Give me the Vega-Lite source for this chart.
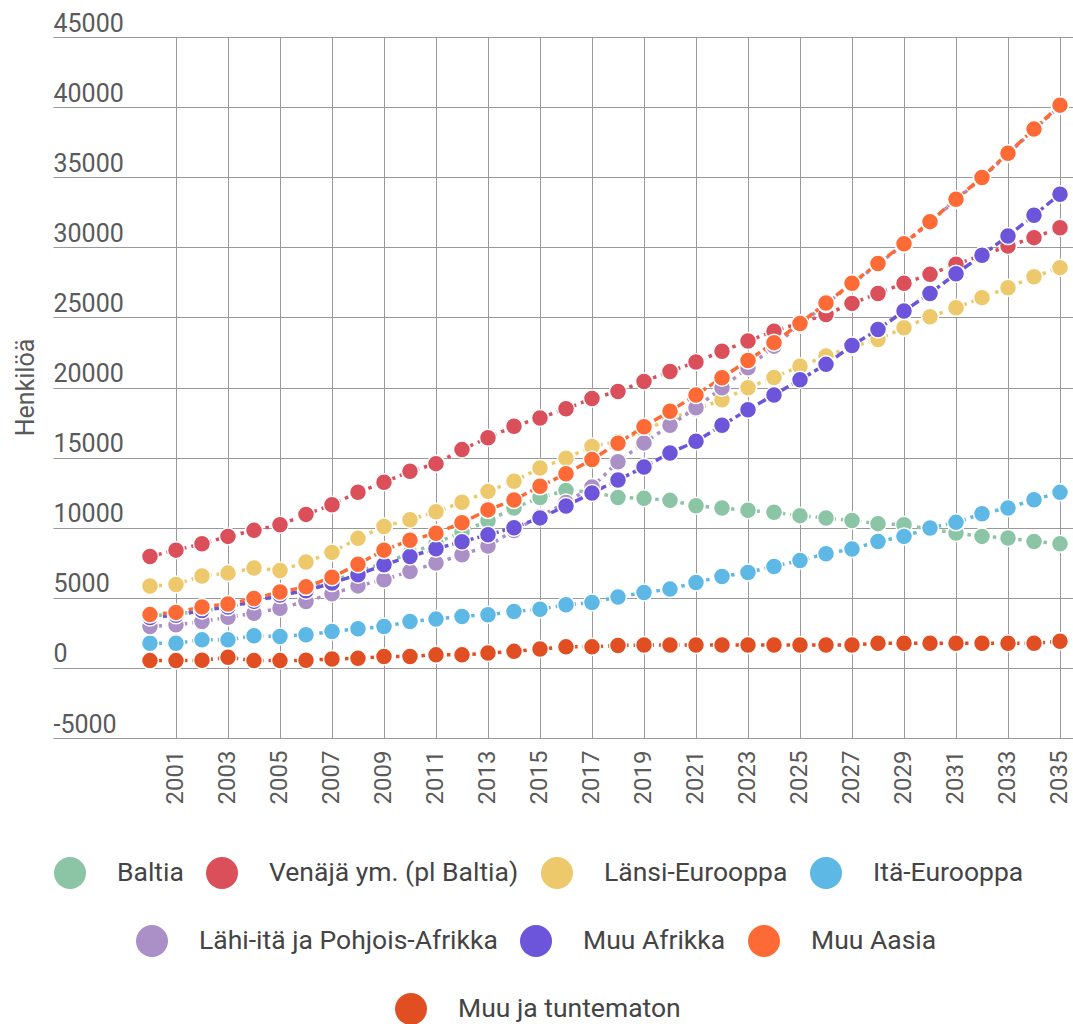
{
"$schema": "https://vega.github.io/schema/vega-lite/v6.json",
"width": 1020, "height": 701,
"autosize": "none",
"padding": {"left": 53, "top": 37, "right": 0, "bottom": 286},
"background": "white",
"config": {"view": {"stroke": null}, "font": "Roboto",
  "legend": {"labelFont": "Roboto", "labelFontSize": 26.5, "labelColor": "#444444", "labelOffset": 31, "columnPadding": 22, "padding": 0, "symbolOffset": 0, "labelLimit": 600, "symbolType": "circle", "symbolSize": 1024, "symbolStrokeWidth": 0, "symbolOpacity": 1, "direction": "horizontal", "orient": "none", "title": null}
},
"data": {"values": [
{"Vuosi":2000,"Alue":"Baltia","Henkilöä":3700},{"Vuosi":2001,"Alue":"Baltia","Henkilöä":3850},{"Vuosi":2002,"Alue":"Baltia","Henkilöä":4050},{"Vuosi":2003,"Alue":"Baltia","Henkilöä":4350},{"Vuosi":2004,"Alue":"Baltia","Henkilöä":4700},{"Vuosi":2005,"Alue":"Baltia","Henkilöä":5150},{"Vuosi":2006,"Alue":"Baltia","Henkilöä":5600},{"Vuosi":2007,"Alue":"Baltia","Henkilöä":6150},{"Vuosi":2008,"Alue":"Baltia","Henkilöä":6850},{"Vuosi":2009,"Alue":"Baltia","Henkilöä":7500},{"Vuosi":2010,"Alue":"Baltia","Henkilöä":8150},{"Vuosi":2011,"Alue":"Baltia","Henkilöä":8900},{"Vuosi":2012,"Alue":"Baltia","Henkilöä":9700},{"Vuosi":2013,"Alue":"Baltia","Henkilöä":10500},{"Vuosi":2014,"Alue":"Baltia","Henkilöä":11400},{"Vuosi":2015,"Alue":"Baltia","Henkilöä":12150},{"Vuosi":2016,"Alue":"Baltia","Henkilöä":12650},{"Vuosi":2017,"Alue":"Baltia","Henkilöä":12550},{"Vuosi":2018,"Alue":"Baltia","Henkilöä":12150},{"Vuosi":2019,"Alue":"Baltia","Henkilöä":12100},{"Vuosi":2020,"Alue":"Baltia","Henkilöä":11950},{"Vuosi":2021,"Alue":"Baltia","Henkilöä":11570},{"Vuosi":2022,"Alue":"Baltia","Henkilöä":11400},{"Vuosi":2023,"Alue":"Baltia","Henkilöä":11240},{"Vuosi":2024,"Alue":"Baltia","Henkilöä":11100},{"Vuosi":2025,"Alue":"Baltia","Henkilöä":10860},{"Vuosi":2026,"Alue":"Baltia","Henkilöä":10690},{"Vuosi":2027,"Alue":"Baltia","Henkilöä":10520},{"Vuosi":2028,"Alue":"Baltia","Henkilöä":10290},{"Vuosi":2029,"Alue":"Baltia","Henkilöä":10210},{"Vuosi":2030,"Alue":"Baltia","Henkilöä":9900},{"Vuosi":2031,"Alue":"Baltia","Henkilöä":9620},{"Vuosi":2032,"Alue":"Baltia","Henkilöä":9380},{"Vuosi":2033,"Alue":"Baltia","Henkilöä":9260},{"Vuosi":2034,"Alue":"Baltia","Henkilöä":9020},{"Vuosi":2035,"Alue":"Baltia","Henkilöä":8860},
{"Vuosi":2000,"Alue":"Venäjä ym. (pl Baltia)","Henkilöä":7950},{"Vuosi":2001,"Alue":"Venäjä ym. (pl Baltia)","Henkilöä":8400},{"Vuosi":2002,"Alue":"Venäjä ym. (pl Baltia)","Henkilöä":8850},{"Vuosi":2003,"Alue":"Venäjä ym. (pl Baltia)","Henkilöä":9380},{"Vuosi":2004,"Alue":"Venäjä ym. (pl Baltia)","Henkilöä":9810},{"Vuosi":2005,"Alue":"Venäjä ym. (pl Baltia)","Henkilöä":10210},{"Vuosi":2006,"Alue":"Venäjä ym. (pl Baltia)","Henkilöä":10950},{"Vuosi":2007,"Alue":"Venäjä ym. (pl Baltia)","Henkilöä":11640},{"Vuosi":2008,"Alue":"Venäjä ym. (pl Baltia)","Henkilöä":12530},{"Vuosi":2009,"Alue":"Venäjä ym. (pl Baltia)","Henkilöä":13240},{"Vuosi":2010,"Alue":"Venäjä ym. (pl Baltia)","Henkilöä":14020},{"Vuosi":2011,"Alue":"Venäjä ym. (pl Baltia)","Henkilöä":14570},{"Vuosi":2012,"Alue":"Venäjä ym. (pl Baltia)","Henkilöä":15570},{"Vuosi":2013,"Alue":"Venäjä ym. (pl Baltia)","Henkilöä":16410},{"Vuosi":2014,"Alue":"Venäjä ym. (pl Baltia)","Henkilöä":17240},{"Vuosi":2015,"Alue":"Venäjä ym. (pl Baltia)","Henkilöä":17830},{"Vuosi":2016,"Alue":"Venäjä ym. (pl Baltia)","Henkilöä":18480},{"Vuosi":2017,"Alue":"Venäjä ym. (pl Baltia)","Henkilöä":19210},{"Vuosi":2018,"Alue":"Venäjä ym. (pl Baltia)","Henkilöä":19720},{"Vuosi":2019,"Alue":"Venäjä ym. (pl Baltia)","Henkilöä":20430},{"Vuosi":2020,"Alue":"Venäjä ym. (pl Baltia)","Henkilöä":21140},{"Vuosi":2021,"Alue":"Venäjä ym. (pl Baltia)","Henkilöä":21820},{"Vuosi":2022,"Alue":"Venäjä ym. (pl Baltia)","Henkilöä":22590},{"Vuosi":2023,"Alue":"Venäjä ym. (pl Baltia)","Henkilöä":23310},{"Vuosi":2024,"Alue":"Venäjä ym. (pl Baltia)","Henkilöä":24020},{"Vuosi":2025,"Alue":"Venäjä ym. (pl Baltia)","Henkilöä":24600},{"Vuosi":2026,"Alue":"Venäjä ym. (pl Baltia)","Henkilöä":25210},{"Vuosi":2027,"Alue":"Venäjä ym. (pl Baltia)","Henkilöä":26000},{"Vuosi":2028,"Alue":"Venäjä ym. (pl Baltia)","Henkilöä":26710},{"Vuosi":2029,"Alue":"Venäjä ym. (pl Baltia)","Henkilöä":27430},{"Vuosi":2030,"Alue":"Venäjä ym. (pl Baltia)","Henkilöä":28070},{"Vuosi":2031,"Alue":"Venäjä ym. (pl Baltia)","Henkilöä":28790},{"Vuosi":2032,"Alue":"Venäjä ym. (pl Baltia)","Henkilöä":29430},{"Vuosi":2033,"Alue":"Venäjä ym. (pl Baltia)","Henkilöä":30090},{"Vuosi":2034,"Alue":"Venäjä ym. (pl Baltia)","Henkilöä":30690},{"Vuosi":2035,"Alue":"Venäjä ym. (pl Baltia)","Henkilöä":31400},
{"Vuosi":2000,"Alue":"Länsi-Eurooppa","Henkilöä":5840},{"Vuosi":2001,"Alue":"Länsi-Eurooppa","Henkilöä":5950},{"Vuosi":2002,"Alue":"Länsi-Eurooppa","Henkilöä":6560},{"Vuosi":2003,"Alue":"Länsi-Eurooppa","Henkilöä":6760},{"Vuosi":2004,"Alue":"Länsi-Eurooppa","Henkilöä":7120},{"Vuosi":2005,"Alue":"Länsi-Eurooppa","Henkilöä":6950},{"Vuosi":2006,"Alue":"Länsi-Eurooppa","Henkilöä":7550},{"Vuosi":2007,"Alue":"Länsi-Eurooppa","Henkilöä":8240},{"Vuosi":2008,"Alue":"Länsi-Eurooppa","Henkilöä":9240},{"Vuosi":2009,"Alue":"Länsi-Eurooppa","Henkilöä":10090},{"Vuosi":2010,"Alue":"Länsi-Eurooppa","Henkilöä":10570},{"Vuosi":2011,"Alue":"Länsi-Eurooppa","Henkilöä":11140},{"Vuosi":2012,"Alue":"Länsi-Eurooppa","Henkilöä":11820},{"Vuosi":2013,"Alue":"Länsi-Eurooppa","Henkilöä":12590},{"Vuosi":2014,"Alue":"Länsi-Eurooppa","Henkilöä":13310},{"Vuosi":2015,"Alue":"Länsi-Eurooppa","Henkilöä":14260},{"Vuosi":2016,"Alue":"Länsi-Eurooppa","Henkilöä":14950},{"Vuosi":2017,"Alue":"Länsi-Eurooppa","Henkilöä":15800},{"Vuosi":2018,"Alue":"Länsi-Eurooppa","Henkilöä":16150},{"Vuosi":2019,"Alue":"Länsi-Eurooppa","Henkilöä":16950},{"Vuosi":2020,"Alue":"Länsi-Eurooppa","Henkilöä":17750},{"Vuosi":2021,"Alue":"Länsi-Eurooppa","Henkilöä":18450},{"Vuosi":2022,"Alue":"Länsi-Eurooppa","Henkilöä":19120},{"Vuosi":2023,"Alue":"Länsi-Eurooppa","Henkilöä":19980},{"Vuosi":2024,"Alue":"Länsi-Eurooppa","Henkilöä":20720},{"Vuosi":2025,"Alue":"Länsi-Eurooppa","Henkilöä":21520},{"Vuosi":2026,"Alue":"Länsi-Eurooppa","Henkilöä":22240},{"Vuosi":2027,"Alue":"Länsi-Eurooppa","Henkilöä":22900},{"Vuosi":2028,"Alue":"Länsi-Eurooppa","Henkilöä":23430},{"Vuosi":2029,"Alue":"Länsi-Eurooppa","Henkilöä":24260},{"Vuosi":2030,"Alue":"Länsi-Eurooppa","Henkilöä":25050},{"Vuosi":2031,"Alue":"Länsi-Eurooppa","Henkilöä":25690},{"Vuosi":2032,"Alue":"Länsi-Eurooppa","Henkilöä":26410},{"Vuosi":2033,"Alue":"Länsi-Eurooppa","Henkilöä":27120},{"Vuosi":2034,"Alue":"Länsi-Eurooppa","Henkilöä":27900},{"Vuosi":2035,"Alue":"Länsi-Eurooppa","Henkilöä":28550},
{"Vuosi":2000,"Alue":"Itä-Eurooppa","Henkilöä":1760},{"Vuosi":2001,"Alue":"Itä-Eurooppa","Henkilöä":1760},{"Vuosi":2002,"Alue":"Itä-Eurooppa","Henkilöä":2000},{"Vuosi":2003,"Alue":"Itä-Eurooppa","Henkilöä":2000},{"Vuosi":2004,"Alue":"Itä-Eurooppa","Henkilöä":2290},{"Vuosi":2005,"Alue":"Itä-Eurooppa","Henkilöä":2240},{"Vuosi":2006,"Alue":"Itä-Eurooppa","Henkilöä":2360},{"Vuosi":2007,"Alue":"Itä-Eurooppa","Henkilöä":2590},{"Vuosi":2008,"Alue":"Itä-Eurooppa","Henkilöä":2790},{"Vuosi":2009,"Alue":"Itä-Eurooppa","Henkilöä":2950},{"Vuosi":2010,"Alue":"Itä-Eurooppa","Henkilöä":3310},{"Vuosi":2011,"Alue":"Itä-Eurooppa","Henkilöä":3480},{"Vuosi":2012,"Alue":"Itä-Eurooppa","Henkilöä":3670},{"Vuosi":2013,"Alue":"Itä-Eurooppa","Henkilöä":3790},{"Vuosi":2014,"Alue":"Itä-Eurooppa","Henkilöä":4020},{"Vuosi":2015,"Alue":"Itä-Eurooppa","Henkilöä":4190},{"Vuosi":2016,"Alue":"Itä-Eurooppa","Henkilöä":4500},{"Vuosi":2017,"Alue":"Itä-Eurooppa","Henkilöä":4670},{"Vuosi":2018,"Alue":"Itä-Eurooppa","Henkilöä":5050},{"Vuosi":2019,"Alue":"Itä-Eurooppa","Henkilöä":5380},{"Vuosi":2020,"Alue":"Itä-Eurooppa","Henkilöä":5620},{"Vuosi":2021,"Alue":"Itä-Eurooppa","Henkilöä":6090},{"Vuosi":2022,"Alue":"Itä-Eurooppa","Henkilöä":6520},{"Vuosi":2023,"Alue":"Itä-Eurooppa","Henkilöä":6810},{"Vuosi":2024,"Alue":"Itä-Eurooppa","Henkilöä":7240},{"Vuosi":2025,"Alue":"Itä-Eurooppa","Henkilöä":7660},{"Vuosi":2026,"Alue":"Itä-Eurooppa","Henkilöä":8140},{"Vuosi":2027,"Alue":"Itä-Eurooppa","Henkilöä":8480},{"Vuosi":2028,"Alue":"Itä-Eurooppa","Henkilöä":9020},{"Vuosi":2029,"Alue":"Itä-Eurooppa","Henkilöä":9380},{"Vuosi":2030,"Alue":"Itä-Eurooppa","Henkilöä":9980},{"Vuosi":2031,"Alue":"Itä-Eurooppa","Henkilöä":10380},{"Vuosi":2032,"Alue":"Itä-Eurooppa","Henkilöä":11000},{"Vuosi":2033,"Alue":"Itä-Eurooppa","Henkilöä":11410},{"Vuosi":2034,"Alue":"Itä-Eurooppa","Henkilöä":12000},{"Vuosi":2035,"Alue":"Itä-Eurooppa","Henkilöä":12520},
{"Vuosi":2000,"Alue":"Lähi-itä ja Pohjois-Afrikka","Henkilöä":2950},{"Vuosi":2001,"Alue":"Lähi-itä ja Pohjois-Afrikka","Henkilöä":3070},{"Vuosi":2002,"Alue":"Lähi-itä ja Pohjois-Afrikka","Henkilöä":3310},{"Vuosi":2003,"Alue":"Lähi-itä ja Pohjois-Afrikka","Henkilöä":3620},{"Vuosi":2004,"Alue":"Lähi-itä ja Pohjois-Afrikka","Henkilöä":3900},{"Vuosi":2005,"Alue":"Lähi-itä ja Pohjois-Afrikka","Henkilöä":4260},{"Vuosi":2006,"Alue":"Lähi-itä ja Pohjois-Afrikka","Henkilöä":4740},{"Vuosi":2007,"Alue":"Lähi-itä ja Pohjois-Afrikka","Henkilöä":5290},{"Vuosi":2008,"Alue":"Lähi-itä ja Pohjois-Afrikka","Henkilöä":5850},{"Vuosi":2009,"Alue":"Lähi-itä ja Pohjois-Afrikka","Henkilöä":6290},{"Vuosi":2010,"Alue":"Lähi-itä ja Pohjois-Afrikka","Henkilöä":6880},{"Vuosi":2011,"Alue":"Lähi-itä ja Pohjois-Afrikka","Henkilöä":7480},{"Vuosi":2012,"Alue":"Lähi-itä ja Pohjois-Afrikka","Henkilöä":8070},{"Vuosi":2013,"Alue":"Lähi-itä ja Pohjois-Afrikka","Henkilöä":8700},{"Vuosi":2014,"Alue":"Lähi-itä ja Pohjois-Afrikka","Henkilöä":9800},{"Vuosi":2015,"Alue":"Lähi-itä ja Pohjois-Afrikka","Henkilöä":10800},{"Vuosi":2016,"Alue":"Lähi-itä ja Pohjois-Afrikka","Henkilöä":11800},{"Vuosi":2017,"Alue":"Lähi-itä ja Pohjois-Afrikka","Henkilöä":12900},{"Vuosi":2018,"Alue":"Lähi-itä ja Pohjois-Afrikka","Henkilöä":14700},{"Vuosi":2019,"Alue":"Lähi-itä ja Pohjois-Afrikka","Henkilöä":16050},{"Vuosi":2020,"Alue":"Lähi-itä ja Pohjois-Afrikka","Henkilöä":17300},{"Vuosi":2021,"Alue":"Lähi-itä ja Pohjois-Afrikka","Henkilöä":18550},{"Vuosi":2022,"Alue":"Lähi-itä ja Pohjois-Afrikka","Henkilöä":19980},{"Vuosi":2023,"Alue":"Lähi-itä ja Pohjois-Afrikka","Henkilöä":21400},{"Vuosi":2024,"Alue":"Lähi-itä ja Pohjois-Afrikka","Henkilöä":22950},{"Vuosi":2025,"Alue":"Lähi-itä ja Pohjois-Afrikka","Henkilöä":24480},{"Vuosi":2026,"Alue":"Lähi-itä ja Pohjois-Afrikka","Henkilöä":25960},{"Vuosi":2027,"Alue":"Lähi-itä ja Pohjois-Afrikka","Henkilöä":27380},{"Vuosi":2028,"Alue":"Lähi-itä ja Pohjois-Afrikka","Henkilöä":28790},{"Vuosi":2029,"Alue":"Lähi-itä ja Pohjois-Afrikka","Henkilöä":30210},{"Vuosi":2030,"Alue":"Lähi-itä ja Pohjois-Afrikka","Henkilöä":31780},{"Vuosi":2031,"Alue":"Lähi-itä ja Pohjois-Afrikka","Henkilöä":33380},{"Vuosi":2032,"Alue":"Lähi-itä ja Pohjois-Afrikka","Henkilöä":34930},{"Vuosi":2033,"Alue":"Lähi-itä ja Pohjois-Afrikka","Henkilöä":36660},{"Vuosi":2034,"Alue":"Lähi-itä ja Pohjois-Afrikka","Henkilöä":38380},{"Vuosi":2035,"Alue":"Lähi-itä ja Pohjois-Afrikka","Henkilöä":40090},
{"Vuosi":2000,"Alue":"Muu Afrikka","Henkilöä":3600},{"Vuosi":2001,"Alue":"Muu Afrikka","Henkilöä":3750},{"Vuosi":2002,"Alue":"Muu Afrikka","Henkilöä":4100},{"Vuosi":2003,"Alue":"Muu Afrikka","Henkilöä":4350},{"Vuosi":2004,"Alue":"Muu Afrikka","Henkilöä":4750},{"Vuosi":2005,"Alue":"Muu Afrikka","Henkilöä":5200},{"Vuosi":2006,"Alue":"Muu Afrikka","Henkilöä":5500},{"Vuosi":2007,"Alue":"Muu Afrikka","Henkilöä":6050},{"Vuosi":2008,"Alue":"Muu Afrikka","Henkilöä":6650},{"Vuosi":2009,"Alue":"Muu Afrikka","Henkilöä":7350},{"Vuosi":2010,"Alue":"Muu Afrikka","Henkilöä":7950},{"Vuosi":2011,"Alue":"Muu Afrikka","Henkilöä":8500},{"Vuosi":2012,"Alue":"Muu Afrikka","Henkilöä":9000},{"Vuosi":2013,"Alue":"Muu Afrikka","Henkilöä":9500},{"Vuosi":2014,"Alue":"Muu Afrikka","Henkilöä":10000},{"Vuosi":2015,"Alue":"Muu Afrikka","Henkilöä":10700},{"Vuosi":2016,"Alue":"Muu Afrikka","Henkilöä":11550},{"Vuosi":2017,"Alue":"Muu Afrikka","Henkilöä":12480},{"Vuosi":2018,"Alue":"Muu Afrikka","Henkilöä":13400},{"Vuosi":2019,"Alue":"Muu Afrikka","Henkilöä":14330},{"Vuosi":2020,"Alue":"Muu Afrikka","Henkilöä":15330},{"Vuosi":2021,"Alue":"Muu Afrikka","Henkilöä":16160},{"Vuosi":2022,"Alue":"Muu Afrikka","Henkilöä":17300},{"Vuosi":2023,"Alue":"Muu Afrikka","Henkilöä":18420},{"Vuosi":2024,"Alue":"Muu Afrikka","Henkilöä":19470},{"Vuosi":2025,"Alue":"Muu Afrikka","Henkilöä":20550},{"Vuosi":2026,"Alue":"Muu Afrikka","Henkilöä":21650},{"Vuosi":2027,"Alue":"Muu Afrikka","Henkilöä":23000},{"Vuosi":2028,"Alue":"Muu Afrikka","Henkilöä":24140},{"Vuosi":2029,"Alue":"Muu Afrikka","Henkilöä":25450},{"Vuosi":2030,"Alue":"Muu Afrikka","Henkilöä":26710},{"Vuosi":2031,"Alue":"Muu Afrikka","Henkilöä":28120},{"Vuosi":2032,"Alue":"Muu Afrikka","Henkilöä":29430},{"Vuosi":2033,"Alue":"Muu Afrikka","Henkilöä":30810},{"Vuosi":2034,"Alue":"Muu Afrikka","Henkilöä":32290},{"Vuosi":2035,"Alue":"Muu Afrikka","Henkilöä":33790},
{"Vuosi":2000,"Alue":"Muu Aasia","Henkilöä":3800},{"Vuosi":2001,"Alue":"Muu Aasia","Henkilöä":3960},{"Vuosi":2002,"Alue":"Muu Aasia","Henkilöä":4350},{"Vuosi":2003,"Alue":"Muu Aasia","Henkilöä":4560},{"Vuosi":2004,"Alue":"Muu Aasia","Henkilöä":4950},{"Vuosi":2005,"Alue":"Muu Aasia","Henkilöä":5420},{"Vuosi":2006,"Alue":"Muu Aasia","Henkilöä":5780},{"Vuosi":2007,"Alue":"Muu Aasia","Henkilöä":6460},{"Vuosi":2008,"Alue":"Muu Aasia","Henkilöä":7400},{"Vuosi":2009,"Alue":"Muu Aasia","Henkilöä":8400},{"Vuosi":2010,"Alue":"Muu Aasia","Henkilöä":9100},{"Vuosi":2011,"Alue":"Muu Aasia","Henkilöä":9600},{"Vuosi":2012,"Alue":"Muu Aasia","Henkilöä":10350},{"Vuosi":2013,"Alue":"Muu Aasia","Henkilöä":11270},{"Vuosi":2014,"Alue":"Muu Aasia","Henkilöä":11980},{"Vuosi":2015,"Alue":"Muu Aasia","Henkilöä":12950},{"Vuosi":2016,"Alue":"Muu Aasia","Henkilöä":13850},{"Vuosi":2017,"Alue":"Muu Aasia","Henkilöä":14860},{"Vuosi":2018,"Alue":"Muu Aasia","Henkilöä":16030},{"Vuosi":2019,"Alue":"Muu Aasia","Henkilöä":17200},{"Vuosi":2020,"Alue":"Muu Aasia","Henkilöä":18310},{"Vuosi":2021,"Alue":"Muu Aasia","Henkilöä":19470},{"Vuosi":2022,"Alue":"Muu Aasia","Henkilöä":20700},{"Vuosi":2023,"Alue":"Muu Aasia","Henkilöä":21920},{"Vuosi":2024,"Alue":"Muu Aasia","Henkilöä":23200},{"Vuosi":2025,"Alue":"Muu Aasia","Henkilöä":24570},{"Vuosi":2026,"Alue":"Muu Aasia","Henkilöä":26020},{"Vuosi":2027,"Alue":"Muu Aasia","Henkilöä":27430},{"Vuosi":2028,"Alue":"Muu Aasia","Henkilöä":28840},{"Vuosi":2029,"Alue":"Muu Aasia","Henkilöä":30260},{"Vuosi":2030,"Alue":"Muu Aasia","Henkilöä":31830},{"Vuosi":2031,"Alue":"Muu Aasia","Henkilöä":33430},{"Vuosi":2032,"Alue":"Muu Aasia","Henkilöä":34980},{"Vuosi":2033,"Alue":"Muu Aasia","Henkilöä":36710},{"Vuosi":2034,"Alue":"Muu Aasia","Henkilöä":38430},{"Vuosi":2035,"Alue":"Muu Aasia","Henkilöä":40140},
{"Vuosi":2000,"Alue":"Muu ja tuntematon","Henkilöä":520},{"Vuosi":2001,"Alue":"Muu ja tuntematon","Henkilöä":520},{"Vuosi":2002,"Alue":"Muu ja tuntematon","Henkilöä":540},{"Vuosi":2003,"Alue":"Muu ja tuntematon","Henkilöä":760},{"Vuosi":2004,"Alue":"Muu ja tuntematon","Henkilöä":520},{"Vuosi":2005,"Alue":"Muu ja tuntematon","Henkilöä":520},{"Vuosi":2006,"Alue":"Muu ja tuntematon","Henkilöä":540},{"Vuosi":2007,"Alue":"Muu ja tuntematon","Henkilöä":640},{"Vuosi":2008,"Alue":"Muu ja tuntematon","Henkilöä":680},{"Vuosi":2009,"Alue":"Muu ja tuntematon","Henkilöä":810},{"Vuosi":2010,"Alue":"Muu ja tuntematon","Henkilöä":810},{"Vuosi":2011,"Alue":"Muu ja tuntematon","Henkilöä":930},{"Vuosi":2012,"Alue":"Muu ja tuntematon","Henkilöä":930},{"Vuosi":2013,"Alue":"Muu ja tuntematon","Henkilöä":1060},{"Vuosi":2014,"Alue":"Muu ja tuntematon","Henkilöä":1180},{"Vuosi":2015,"Alue":"Muu ja tuntematon","Henkilöä":1350},{"Vuosi":2016,"Alue":"Muu ja tuntematon","Henkilöä":1500},{"Vuosi":2017,"Alue":"Muu ja tuntematon","Henkilöä":1500},{"Vuosi":2018,"Alue":"Muu ja tuntematon","Henkilöä":1600},{"Vuosi":2019,"Alue":"Muu ja tuntematon","Henkilöä":1640},{"Vuosi":2020,"Alue":"Muu ja tuntematon","Henkilöä":1640},{"Vuosi":2021,"Alue":"Muu ja tuntematon","Henkilöä":1640},{"Vuosi":2022,"Alue":"Muu ja tuntematon","Henkilöä":1640},{"Vuosi":2023,"Alue":"Muu ja tuntematon","Henkilöä":1640},{"Vuosi":2024,"Alue":"Muu ja tuntematon","Henkilöä":1640},{"Vuosi":2025,"Alue":"Muu ja tuntematon","Henkilöä":1640},{"Vuosi":2026,"Alue":"Muu ja tuntematon","Henkilöä":1640},{"Vuosi":2027,"Alue":"Muu ja tuntematon","Henkilöä":1640},{"Vuosi":2028,"Alue":"Muu ja tuntematon","Henkilöä":1760},{"Vuosi":2029,"Alue":"Muu ja tuntematon","Henkilöä":1760},{"Vuosi":2030,"Alue":"Muu ja tuntematon","Henkilöä":1760},{"Vuosi":2031,"Alue":"Muu ja tuntematon","Henkilöä":1760},{"Vuosi":2032,"Alue":"Muu ja tuntematon","Henkilöä":1760},{"Vuosi":2033,"Alue":"Muu ja tuntematon","Henkilöä":1760},{"Vuosi":2034,"Alue":"Muu ja tuntematon","Henkilöä":1760},{"Vuosi":2035,"Alue":"Muu ja tuntematon","Henkilöä":1900}
]},
"encoding": {
  "x": {"field": "Vuosi", "type": "quantitative",
    "scale": {"domain": [1996.27, 2035.5], "nice": false, "zero": false},
    "axis": {"title": null, "values": [2001,2003,2005,2007,2009,2011,2013,2015,2017,2019,2021,2023,2025,2027,2029,2031,2033,2035], "format": "d", "labelAngle": -90, "labelFont": "Roboto", "labelFontSize": 24, "labelColor": "#5a5a5a", "labelPadding": 12, "ticks": false, "tickSize": 0, "domain": false, "grid": true, "gridColor": "#999999", "gridWidth": 1, "labelFlush": false, "labelOverlap": false, "labelBound": false}},
  "y": {"field": "Henkilöä", "type": "quantitative",
    "scale": {"domain": [-5000, 45000], "nice": false, "zero": false},
    "axis": {"title": "Henkilöä", "values": [-5000,0,5000,10000,15000,20000,25000,30000,35000,40000,45000], "labelExpr": "datum.value < 0 ? '-' + format(-datum.value, 'd') : format(datum.value, 'd')", "labelAlign": "left", "labelBaseline": "alphabetic", "labelOffset": -6, "labelPadding": 0, "ticks": false, "tickSize": 0, "domain": false, "grid": true, "gridColor": "#999999", "gridWidth": 1, "labelFont": "Roboto", "labelFontSize": 25, "labelColor": "#5a5a5a", "labelFlush": false, "labelOverlap": false, "labelBound": false,
      "titleFont": "Roboto", "titleFontSize": 25, "titleFontWeight": "normal", "titleColor": "#5a5a5a", "titleAngle": -90, "titleX": -20, "titleY": 350, "titleAlign": "center", "titleBaseline": "alphabetic"}}
},
"layer": [
  {"transform": [{"filter": {"field": "Alue", "oneOf": ["Baltia", "Venäjä ym. (pl Baltia)", "Länsi-Eurooppa", "Itä-Eurooppa"]}}],
   "encoding": {"color": {"field": "Alue", "type": "nominal", "sort": null,
      "scale": {"domain": ["Baltia", "Venäjä ym. (pl Baltia)", "Länsi-Eurooppa", "Itä-Eurooppa"], "range": ["#8bc5a5", "#db4f5a", "#edc96b", "#5db8e6"]},
      "legend": {"orient": "none", "legendX": 1, "legendY": 820, "direction": "horizontal", "title": null}}},
   "layer": [
     {"mark": {"type": "line", "strokeWidth": 3.5, "strokeDash": [3.5, 5]}},
     {"mark": {"type": "point", "shape": "circle", "filled": true, "size": 289, "opacity": 1, "stroke": "white", "strokeWidth": 1.5}}
   ]},
  {"transform": [{"filter": {"field": "Alue", "oneOf": ["Lähi-itä ja Pohjois-Afrikka", "Muu Afrikka", "Muu Aasia"]}}],
   "encoding": {"color": {"field": "Alue", "type": "nominal", "sort": null,
      "scale": {"domain": ["Lähi-itä ja Pohjois-Afrikka", "Muu Afrikka", "Muu Aasia"], "range": ["#ab90c8", "#6c55db", "#fe6a35"]},
      "legend": {"orient": "none", "legendX": 83, "legendY": 888, "direction": "horizontal", "title": null}}},
   "layer": [
     {"mark": {"type": "line", "strokeWidth": 3.5},
      "encoding": {"strokeDash": {"field": "Alue", "type": "nominal", "scale": {"domain": ["Lähi-itä ja Pohjois-Afrikka", "Muu Afrikka", "Muu Aasia"], "range": [[3.5, 5], [9, 4], [9, 4]]}, "legend": null}}},
     {"mark": {"type": "point", "shape": "circle", "filled": true, "size": 289, "opacity": 1, "stroke": "white", "strokeWidth": 1.5}}
   ]},
  {"transform": [{"filter": {"field": "Alue", "oneOf": ["Muu ja tuntematon"]}}],
   "encoding": {"color": {"field": "Alue", "type": "nominal", "sort": null,
      "scale": {"domain": ["Muu ja tuntematon"], "range": ["#e04e22"]},
      "legend": {"orient": "none", "legendX": 342, "legendY": 956, "direction": "horizontal", "title": null}}},
   "layer": [
     {"mark": {"type": "line", "strokeWidth": 3.5, "strokeDash": [3.5, 5]}},
     {"mark": {"type": "point", "shape": "circle", "filled": true, "size": 289, "opacity": 1, "stroke": "white", "strokeWidth": 1.5}}
   ]}
],
"resolve": {"scale": {"color": "independent", "strokeDash": "independent"}, "legend": {"color": "independent"}}
}
